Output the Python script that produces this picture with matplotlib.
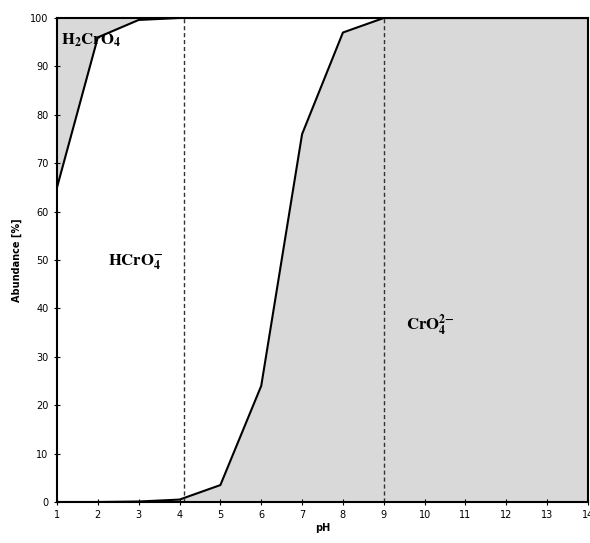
import matplotlib.pyplot as plt

# Chromate speciation vs pH
ph = [1, 2, 3, 4, 5, 6, 7, 8, 9, 10, 11, 12, 13, 14]
# upper boundary: H2CrO4 / HCrO4- (cumulative %)
upper = [65, 96, 99.6, 100, 100, 100, 100, 100, 100, 100, 100, 100, 100, 100]
# lower boundary: HCrO4- / CrO4 2- (cumulative %)
lower = [0, 0, 0.1, 0.5, 3.5, 24, 76, 97, 100, 100, 100, 100, 100, 100]
pka_lines = [4.1, 9.0]

plt.rcParams['mathtext.fontset'] = 'stix'

fig = plt.figure(figsize=(5.9, 5.43), dpi=100)
ax = fig.add_axes([57 / 590, 41 / 543, 531 / 590, 484 / 543])

gray = '#d9d9d9'
ax.fill_between(ph, upper, 100, color=gray, lw=0)
ax.fill_between(ph, 0, lower, color=gray, lw=0)
ax.plot(ph, upper, color='black', lw=1.5)
ax.plot(ph, lower, color='black', lw=1.5)
for x in pka_lines:
    ax.axvline(x, color='#333333', lw=1, ls=(0, (3, 2)))

ax.set_xlim(1, 14)
ax.set_ylim(0, 100)
ax.set_xticks(range(1, 15))
ax.set_yticks(range(0, 101, 10))
ax.tick_params(direction='inout', length=5, labelsize=7, width=0.8)
for s in ax.spines.values():
    s.set_linewidth(1.5)

ax.set_xlabel('pH', fontsize=7, fontweight='bold', labelpad=2)
ax.set_ylabel('Abundance [%]', fontsize=7, fontweight='bold', labelpad=6)

ax.text(1.1, 95.5, r'$\mathbf{H_2CrO_4}$', fontsize=12, va='center', ha='left')
ax.text(2.25, 49.5, r'$\mathbf{HCrO_4^{-}}$', fontsize=12, va='center', ha='left')
ax.text(9.55, 36.5, r'$\mathbf{CrO_4^{2\!-}}$', fontsize=12, va='center', ha='left')

fig.savefig('out.png', dpi=100)
